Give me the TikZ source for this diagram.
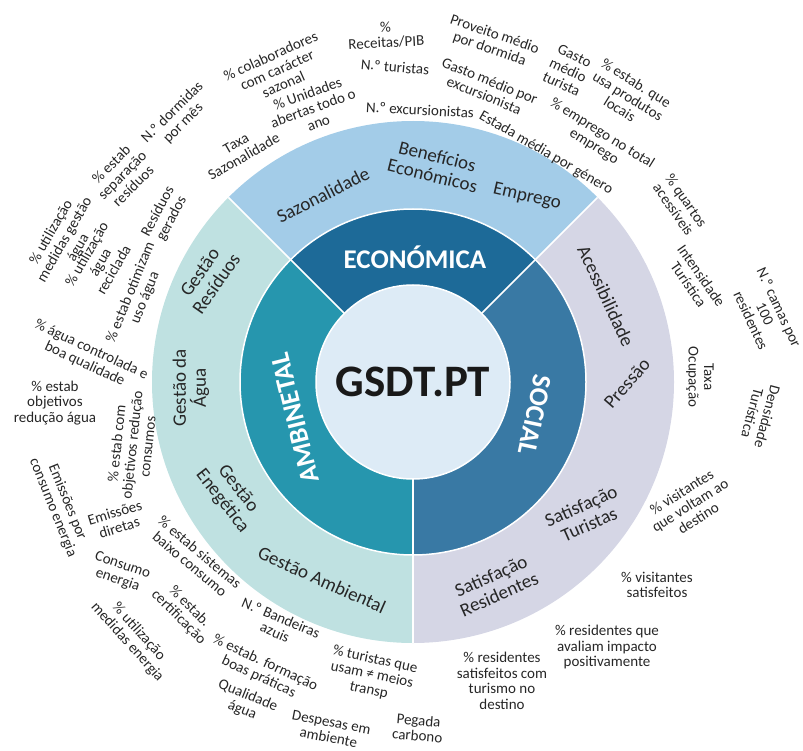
\documentclass[tikz,border=0pt]{standalone}
\usepackage{fontspec}
\setmainfont{Carlito}
\usetikzlibrary{positioning}

\definecolor{innerC}{HTML}{DDEBF6}
\definecolor{econMid}{HTML}{1D6A98}
\definecolor{ambMid}{HTML}{2696AE}
\definecolor{socMid}{HTML}{3979A4}
\definecolor{econOut}{HTML}{A3CCE8}
\definecolor{ambOut}{HTML}{BFE1E1}
\definecolor{socOut}{HTML}{D5D6E5}
\definecolor{txt}{HTML}{262626}

\tikzset{
    dimlabel/.style={font=\bfseries\fontsize{27}{27}\selectfont, text=white, inner sep=0pt},
    ringlabel/.style={font=\fontsize{19}{20}\selectfont, text=txt, align=center, inner sep=0pt},
    indlabel/.style={font=\fontsize{15}{15.5}\selectfont, text=txt, align=center, inner sep=0pt},
    divider/.style={white, line width=1.5pt}
}

\begin{document}
\begin{tikzpicture}[x=1pt, y=-1pt]
    \useasboundingbox (0,0) rectangle (803,751);
    \coordinate (c) at (413,382);
    \begin{scope}[shift={(c)}, y=1pt]
    \def \rA {97}
    \def \rB {173}
    \def \rC {261}
    % outer ring
    \fill[econOut] (45:\rB) arc[start angle=45, end angle=135, radius=\rB] -- (135:\rC) arc[start angle=135, end angle=45, radius=\rC] -- cycle;
    \fill[ambOut] (135:\rB) arc[start angle=135, end angle=270, radius=\rB] -- (270:\rC) arc[start angle=270, end angle=135, radius=\rC] -- cycle;
    \fill[socOut] (-90:\rB) arc[start angle=-90, end angle=45, radius=\rB] -- (45:\rC) arc[start angle=45, end angle=-90, radius=\rC] -- cycle;
    % middle ring
    \fill[econMid] (45:\rA) arc[start angle=45, end angle=135, radius=\rA] -- (135:\rB) arc[start angle=135, end angle=45, radius=\rB] -- cycle;
    \fill[ambMid] (135:\rA) arc[start angle=135, end angle=270, radius=\rA] -- (270:\rB) arc[start angle=270, end angle=135, radius=\rB] -- cycle;
    \fill[socMid] (-90:\rA) arc[start angle=-90, end angle=45, radius=\rA] -- (45:\rB) arc[start angle=45, end angle=-90, radius=\rB] -- cycle;
    \foreach \a in {45,135,270}
        \draw[divider] (\a:\rA) -- (\a:\rC);
    \draw[divider] (0,0) circle[radius=\rB];
    \end{scope}

    \node[circle, fill=innerC, draw=white, line width=1.5pt, minimum size=194pt, inner sep=0pt,
          font=\bfseries\fontsize{45}{45}\selectfont, text=black!90] (gsdt) at (c) {GSDT.PT};

    % dimensions
    \node[dimlabel] (econ) at (415,257) {ECONÓMICA};
    \node[dimlabel, rotate=104] (amb) at (295,418) {AMBINETAL};
    \node[dimlabel, rotate=-102] (soc) at (535,415) {SOCIAL};

    % themes
    \node[ringlabel, rotate=27] (sazon) at (323,195) {Sazonalidade};
    \node[ringlabel, rotate=-14] (benef) at (435,166) {Benefícios\\Económicos};
    \node[ringlabel, rotate=-13] (empreg) at (527,197) {Emprego};
    \node[ringlabel, rotate=-65] (acess) at (606,296) {Acessibilidade};
    \node[ringlabel, rotate=49] (press) at (627,383) {Pressão};
    \node[ringlabel, rotate=24] (satTur) at (585,515) {Satisfação\\Turistas};
    \node[ringlabel, rotate=24] (satRes) at (495,585) {Satisfação\\Residentes};
    \node[ringlabel, rotate=-24] (gAmb) at (322,580) {Gestão Ambiental};
    \node[ringlabel, rotate=-52] (gEne) at (230,495) {Gestão\\Enegética};
    \node[ringlabel, rotate=90] (gAgua) at (191,388) {Gestão da\\Água};
    \node[ringlabel, rotate=55] (gRes) at (208,278) {Gestão\\Resíduos};

    % indicators - economica
    \node[indlabel, rotate=30] (taxaSaz) at (240,150) {Taxa\\Sazonalidade};
    \node[indlabel, rotate=20] (unid) at (313,108) {\% Unidades\\abertas todo o\\ano};
    \node[indlabel, rotate=24] (colab) at (277,70) {\% colaboradores\\com carácter\\sazonal};
    \node[indlabel, rotate=3] (receit) at (386,35) {\%\\Receitas/PIB};
    \node[indlabel, rotate=-5] (nTur) at (395,67) {N.º turistas};
    \node[indlabel, rotate=-3] (nExc) at (420,110) {N.º excursionistas};
    \node[indlabel, rotate=-22] (gastoExc) at (487,88) {Gasto médio por\\excursionista};
    \node[indlabel, rotate=-19] (provei) at (492,42) {Proveito médio\\por dormida};
    \node[indlabel, rotate=-25] (gastoTur) at (568,70) {Gasto\\médio\\turista};
    \node[indlabel, rotate=-32] (prodLoc) at (628,96) {\% estab. que\\usa produtos\\locais};
    \node[indlabel, rotate=-32] (empTot) at (598,140) {\% emprego no total\\emprego};
    \node[indlabel, rotate=-30] (estada) at (546,153) {Estada média por género};
    \node[indlabel, rotate=45] (dormid) at (178,118) {N.º dormidas\\por mês};

    % indicators - social
    \node[indlabel, rotate=-55] (quart) at (680,205) {\% quartos\\acessíveis};
    \node[indlabel, rotate=-55] (intens) at (695,280) {Intensidade\\Turística};
    \node[indlabel, rotate=-65] (camas) at (765,314) {N.º camas por\\100\\residentes};
    \node[indlabel, rotate=-90] (ocup) at (700,377) {Taxa\\Ocupação};
    \node[indlabel, rotate=-105] (dens) at (760,415) {Densidade\\Turística};
    \node[indlabel, rotate=32] (volt) at (690,505) {\% visitantes\\que voltam ao\\destino};
    \node[indlabel] (visSat) at (657,585) {\% visitantes\\satisfeitos};
    \node[indlabel] (resImp) at (607,647) {\% residentes que\\avaliam impacto\\positivamente};
    \node[indlabel] (resSat) at (502,681) {\% residentes\\satisfeitos com\\turismo no\\destino};

    % indicators - ambiental
    \node[indlabel, rotate=-5] (pegada) at (418,728) {Pegada\\carbono};
    \node[indlabel, rotate=-11] (desp) at (330,730) {Despesas em\\ambiente};
    \node[indlabel, rotate=-22] (qualAg) at (245,703) {Qualidade\\água};
    \node[indlabel, rotate=-25] (form) at (262,670) {\% estab. formação\\boas práticas};
    \node[indlabel, rotate=-12] (transp) at (372,675) {\% turistas que\\usam ≠ meios\\transp};
    \node[indlabel, rotate=-23] (bandei) at (278,625) {N.º Bandeiras\\azuis};
    \node[indlabel, rotate=-45] (certif) at (184,612) {\% estab.\\certificação};
    \node[indlabel, rotate=-48] (medEn) at (133,637) {\% utilização\\medidas energia};
    \node[indlabel, rotate=-40] (sistBx) at (195,558) {\% estab sistemas\\baixo consumo};
    \node[indlabel, rotate=-19] (consEn) at (120,573) {Consumo\\energia};
    \node[indlabel, rotate=17] (emisDir) at (117,520) {Emissões\\diretas};
    \node[indlabel, rotate=-68] (emisCons) at (60,505) {Emissões por\\consumo energia};
    \node[indlabel, rotate=84] (objCons) at (132,445) {\% estab com\\objetivos redução\\consumos};
    \node[indlabel] (objAgua) at (55,403) {\% estab\\objetivos\\redução água};
    \node[indlabel, rotate=-25] (agCtrl) at (88,357) {\% água controlada e\\boa qualidade};
    \node[indlabel, rotate=68] (otimAg) at (138,295) {\% estab otimizam\\uso água};
    \node[indlabel, rotate=60] (recicl) at (100,262) {\% utilização\\água\\reciclada};
    \node[indlabel, rotate=60] (medGest) at (65,240) {\% utilização\\medidas gestão\\água};
    \node[indlabel, rotate=45] (separ) at (122,175) {\% estab\\separação\\resíduos};
    \node[indlabel, rotate=62] (resGer) at (165,215) {Resíduos\\gerados};
\end{tikzpicture}
\end{document}
